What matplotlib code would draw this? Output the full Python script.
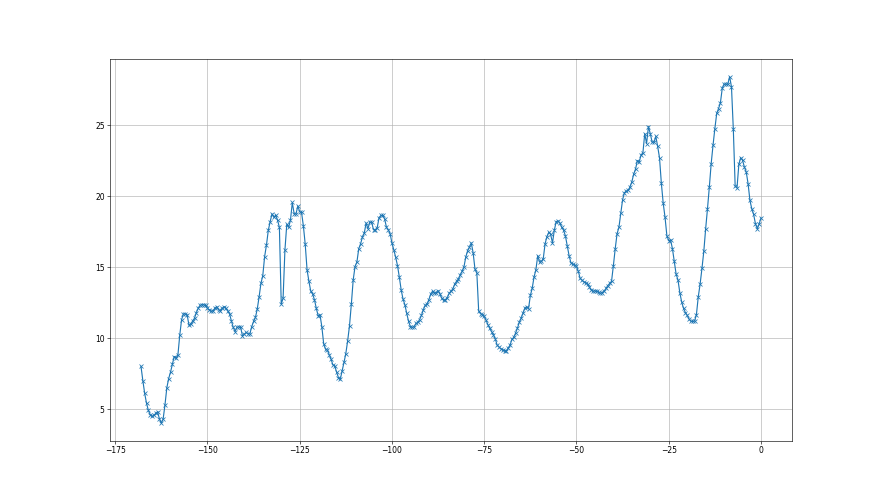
import numpy as np
import matplotlib
matplotlib.use("Agg")
import matplotlib.pyplot as plt

# hours relative to now, 30-minute samples
hours = np.arange(-168, 0.5, 0.5)

seg1 = [8.0, 7.0, 6.1, 5.4, 4.9, 4.6, 4.5, 4.55, 4.7, 4.8, 4.3, 4.0, 4.3, 5.3, 6.5, 7.15,
        7.6, 8.15, 8.7, 8.6, 8.8, 10.2, 11.3, 11.7, 11.7, 11.65, 10.9, 11.0, 11.2, 11.4,
        11.8, 12.1, 12.3, 12.35, 12.35, 12.3, 12.1, 12.0, 11.9, 11.9, 12.1, 12.2, 12.0,
        11.9, 12.1, 12.2]
seg2 = [12.1, 11.9, 11.7, 11.2, 10.75, 10.46, 10.75, 10.8, 10.75, 10.15, 10.27, 10.4,
        10.3, 10.3, 10.8, 11.17, 11.45, 12.04, 12.9, 13.85, 14.4, 15.74, 16.56, 17.6,
        18.2, 18.75, 18.5, 18.66, 18.3, 17.8, 12.4, 12.8, 16.2, 18.0, 17.8, 18.3, 19.55,
        18.75, 18.75, 19.3, 18.9, 18.85, 17.9, 16.6, 14.8, 14.0, 13.3, 13.1, 12.7, 12.1,
        11.57, 11.64, 10.8, 9.6]
seg3 = [9.22, 9.15, 8.82, 8.51, 8.11, 8.04, 7.6, 7.22, 7.1, 7.69, 8.28, 8.91, 9.81,
        10.87, 12.4, 14.1, 15.04, 15.35, 16.29, 16.64, 17.11, 17.4, 18.1, 17.7, 18.17,
        18.17, 17.63, 17.63, 17.77, 18.48, 18.64, 18.64, 18.41, 17.82, 17.63, 17.35,
        16.69, 16.22, 15.7, 15.11, 14.29, 13.39, 12.75, 12.35, 11.74, 11.18, 10.8, 10.75,
        10.8, 11.03, 11.1]
seg4 = [11.3, 11.6, 12.0, 12.3, 12.4, 12.7, 13.1, 13.3, 13.15, 13.2, 13.35, 13.1, 12.8,
        12.65, 12.7, 12.85, 13.15, 13.3, 13.46, 13.8, 14.0, 14.15, 14.45, 14.7, 15.0,
        15.7, 16.15, 16.4, 16.7, 16.0, 14.85, 14.6, 11.9, 11.72, 11.64, 11.55, 11.25,
        10.95, 10.68, 10.45, 10.23, 9.95, 9.5, 9.37, 9.25, 9.18, 9.1, 9.1, 9.3, 9.5,
        9.9, 10.05]
seg5 = [10.35, 10.7, 11.1, 11.4, 11.75, 12.1, 12.2, 12.05, 13.0, 13.5, 14.3, 14.8, 15.8,
        15.35, 15.4, 15.6, 16.65, 17.15, 17.45, 17.3, 16.7, 17.6, 18.2, 18.25, 18.1,
        17.8, 17.6, 17.2, 16.5, 15.8, 15.3, 15.2, 15.15, 15.05, 14.7, 14.2, 14.07,
        13.95, 13.9, 13.8, 13.6, 13.4, 13.3, 13.33, 13.29, 13.22, 13.15, 13.2, 13.3,
        13.5, 13.7]
seg6 = [13.85, 14.0, 15.1, 16.3, 17.35, 17.8, 18.8, 19.75, 20.24, 20.36, 20.4, 20.65,
        21.0, 21.55, 21.9, 22.5, 22.4, 22.9, 23.05, 24.4, 23.7, 24.9, 24.4, 23.8, 23.8,
        24.2, 23.5, 22.7, 20.9, 19.5, 18.5, 17.2, 16.87, 16.9, 16.3, 15.4, 14.5, 14.1,
        13.2, 12.55, 12.1, 11.8, 11.6, 11.34, 11.18, 11.17, 11.2, 11.65, 12.9, 13.8,
        14.9, 16.1]
seg7 = [17.69, 19.11, 20.64, 22.29, 23.58, 24.76, 25.82, 26.17, 26.57, 27.59, 27.89,
        27.89, 27.89, 28.41, 27.7, 24.71, 20.69, 20.59, 22.24, 22.71, 22.52, 22.05,
        21.7, 20.87, 19.7, 19.11, 18.71, 18.05, 17.69, 18.05, 18.45]

values = seg1 + seg2 + seg3 + seg4 + seg5 + seg6 + seg7

fig, ax = plt.subplots(figsize=(16, 9), dpi=55)
ax.plot(hours, values, marker="x", color="#1f77b4")
ax.grid(True)
fig.savefig("out.png", dpi=55)
